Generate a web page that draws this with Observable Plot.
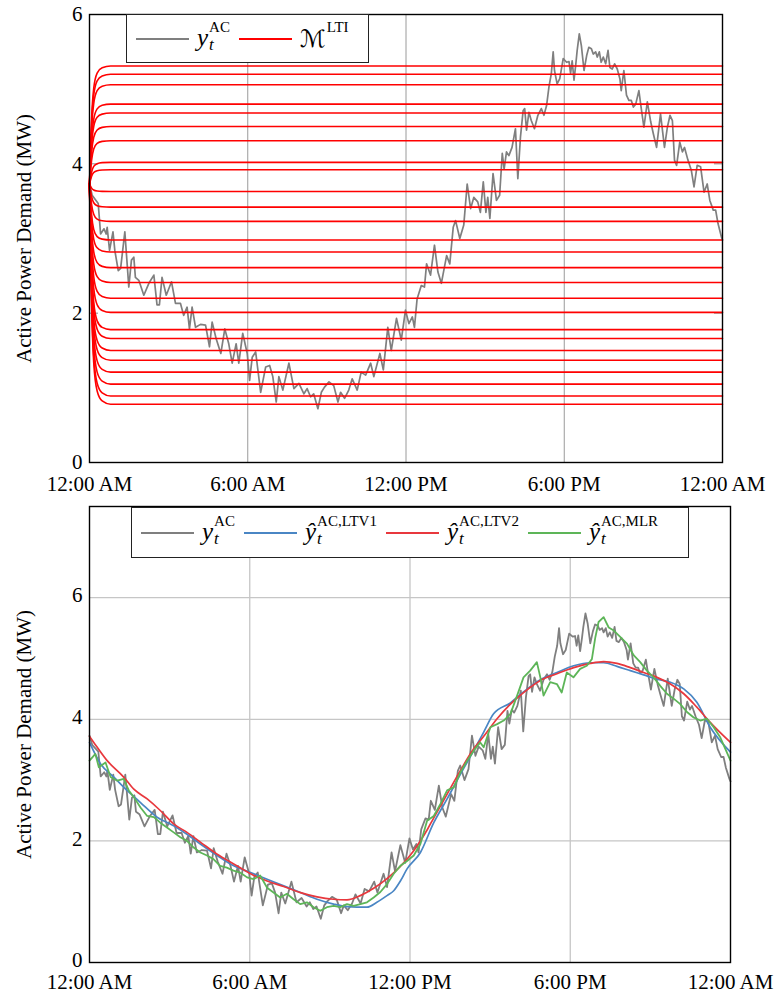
<!DOCTYPE html>
<html>
<head>
<meta charset="utf-8">
<script src="https://cdn.jsdelivr.net/npm/d3@7"></script>
<script src="https://cdn.jsdelivr.net/npm/@observablehq/plot@0.6"></script>
<style>
  html, body { margin: 0; padding: 0; background: white; }
  #wrap { position: relative; width: 779px; height: 994px; overflow: hidden; font-family: 'Liberation Serif', 'DejaVu Serif', serif; }
  #wrap svg, #wrap svg text { font-family: 'Liberation Serif', 'DejaVu Serif', serif !important; }
  .chart { position: absolute; left: 0; }
  .legend { position: absolute; background: white; border: 1.3px solid #222; box-sizing: border-box; display: flex; align-items: center; padding-left: 9px; }
  .item { display: flex; align-items: center; margin-right: 9px; }
  .swatch { width: 53px; height: 0; border-top: 2px solid; margin-right: 8px; }
  .m { display: inline-flex; align-items: center; line-height: 1; }
  .base { font-style: italic; font-size: 25px; position: relative; top: -1px; }
  .scr { font-family: 'DejaVu Serif', 'DejaVu Sans', serif; font-size: 24px; font-style: italic; }
  .ss { display: inline-flex; flex-direction: column; margin-left: 1px; }
  .sup { font-size: 15px; position: relative; top: -3px; }
  .sub { font-size: 17px; font-style: italic; position: relative; top: -2px; }
</style>
</head>
<body>
<div id="wrap"></div>
<script>
// ---------- data ----------
const tickHours = [0, 6, 12, 18, 24];
const tickLabels = ["12:00 AM", "6:00 AM", "12:00 PM", "6:00 PM", "12:00 AM"];
const yTicks = [0, 2, 4, 6];
const yLabel = "Active Power Demand (MW)";

// measured active-power demand y_t^AC (hour of day, MW)
const acHour = [0,0.10,0.33,0.42,0.55,0.63,0.67,0.76,0.89,0.96,1.09,1.18,1.34,1.49,1.59,1.68,1.74,1.87,2.06,2.25,2.44,2.56,2.65,2.75,2.91,3.11,3.26,3.45,3.57,3.70,3.79,3.89,4.02,4.21,4.40,4.55,4.65,4.80,4.98,5.13,5.28,5.41,5.56,5.66,5.81,5.98,6.07,6.17,6.30,6.49,6.68,6.83,6.95,7.08,7.18,7.33,7.56,7.75,7.94,8.13,8.25,8.38,8.50,8.66,8.79,8.91,9.08,9.26,9.42,9.52,9.67,9.83,9.96,10.15,10.30,10.47,10.66,10.78,11.01,11.14,11.31,11.44,11.64,11.82,11.98,12.11,12.24,12.32,12.42,12.58,12.70,12.78,12.93,13.08,13.21,13.34,13.54,13.66,13.79,13.88,14.04,14.19,14.32,14.45,14.57,14.72,14.82,14.93,15.03,15.10,15.18,15.30,15.43,15.55,15.65,15.72,15.81,15.90,16.02,16.15,16.24,16.34,16.44,16.50,16.57,16.66,16.75,16.87,17.00,17.13,17.23,17.33,17.42,17.51,17.58,17.63,17.73,17.83,17.96,18.09,18.18,18.24,18.30,18.37,18.44,18.49,18.57,18.65,18.75,18.85,18.93,19.03,19.10,19.19,19.25,19.33,19.40,19.48,19.57,19.66,19.73,19.82,19.91,20.01,20.11,20.16,20.26,20.36,20.45,20.54,20.62,20.71,20.83,20.92,21.02,21.15,21.28,21.38,21.50,21.65,21.80,21.91,22.01,22.10,22.18,22.26,22.38,22.48,22.56,22.69,22.82,22.92,23.04,23.17,23.30,23.42,23.52,23.65,23.74,23.83,23.96,24];
const acValue = [3.73,3.58,3.47,3.06,3.13,3.06,3.15,2.84,3.09,2.84,2.57,2.60,3.09,2.35,2.71,2.75,2.48,2.44,2.24,2.40,2.51,2.11,2.11,2.48,2.24,2.42,2.13,2.13,1.97,2.08,1.79,2.08,1.81,1.85,1.84,1.55,1.88,1.66,1.46,1.79,1.59,1.33,1.59,1.33,1.73,1.46,1.10,1.41,1.48,0.94,1.28,1.30,1.15,0.81,1.15,0.97,1.33,0.99,1.06,0.92,0.99,0.88,0.92,0.72,0.94,1.01,1.08,1.03,0.81,0.94,0.86,0.97,1.12,0.97,1.21,1.17,1.33,1.15,1.46,1.24,1.81,1.50,1.93,1.64,2.04,1.86,1.95,1.81,2.19,2.37,2.35,2.66,2.51,2.91,2.55,2.40,2.77,2.66,3.15,3.24,3.00,3.18,3.73,3.40,3.55,3.49,3.35,3.76,3.35,3.55,3.27,3.87,3.51,3.58,4.14,3.93,4.16,4.11,4.22,4.47,3.80,4.36,4.71,4.74,4.45,4.69,4.58,4.47,4.65,4.74,4.65,4.78,5.03,5.21,5.50,5.25,5.07,5.14,5.41,5.36,5.37,5.21,5.38,5.12,5.34,5.52,5.74,5.58,5.25,5.45,5.56,5.54,5.47,5.50,5.43,5.50,5.36,5.43,5.34,5.52,5.29,5.27,5.34,5.27,5.14,4.98,5.25,4.92,4.85,4.85,4.76,4.80,4.98,4.74,4.49,4.83,4.56,4.40,4.22,4.67,4.22,4.49,4.65,4.58,4.05,3.98,4.29,4.16,4.22,4.05,3.91,3.69,3.98,3.96,3.62,3.73,3.51,3.38,3.38,3.20,3.02,2.98];

// LTI model responses: common start value, steady-state levels, and step-response profile
const ltiStart = 3.73;
const ltiLevels = [5.31,5.20,5.06,4.80,4.68,4.50,4.31,4.02,3.92,3.63,3.42,3.23,2.98,2.82,2.61,2.41,2.20,2.01,1.78,1.66,1.50,1.37,1.21,1.05,0.89,0.78];
const ltiProfileHour = [0,0.03,0.08,0.16,0.29,0.48,0.8,24];
const ltiProfileFrac = [0,0.22,0.55,0.81,0.94,0.985,1,1];

// forecasts (bottom panel)
const ltv1Hour = [0,0.41,0.91,1.41,1.91,2.53,3.15,3.65,4.15,4.78,5.40,6.03,6.65,7.27,7.90,8.52,9.14,9.64,10.39,10.76,11.14,11.39,11.64,11.89,12.39,12.89,13.39,13.89,14.38,14.76,15.13,15.76,16.25,16.88,17.50,18.13,18.75,19.25,19.75,20.25,20.75,21.25,21.75,22.25,22.74,23.24,24];
const ltv1Value = [3.62,3.27,3.05,2.83,2.63,2.39,2.25,2.11,1.95,1.76,1.59,1.48,1.37,1.26,1.15,1.04,0.96,0.92,0.91,0.99,1.10,1.18,1.34,1.54,1.81,2.30,2.69,3.10,3.48,3.79,4.09,4.27,4.45,4.65,4.77,4.88,4.93,4.93,4.87,4.80,4.73,4.66,4.61,4.50,4.28,3.87,3.46];

const ltv2Hour = [0,0.16,0.66,1.28,1.66,2.16,2.65,3.15,3.65,4.15,4.78,5.40,6.03,6.65,7.27,7.90,8.52,9.14,9.64,10.14,10.64,11.14,11.64,12.14,12.64,12.89,13.39,13.89,14.38,14.76,15.26,15.76,16.25,16.88,17.50,18.13,18.75,19.25,19.75,20.25,20.75,21.25,21.75,22.25,22.74,23.24,24];
const ltv2Value = [3.72,3.62,3.32,3.05,2.85,2.69,2.50,2.28,2.14,1.98,1.78,1.62,1.46,1.34,1.25,1.15,1.08,1.04,1.03,1.10,1.22,1.38,1.58,1.84,2.18,2.38,2.77,3.16,3.51,3.72,4.01,4.25,4.44,4.64,4.75,4.85,4.92,4.95,4.92,4.85,4.77,4.69,4.58,4.42,4.20,3.95,3.62];

const mlrHour = [0,0.22,0.35,0.60,0.79,1.04,1.28,1.47,1.66,1.91,2.16,2.41,2.65,2.90,3.15,3.40,3.65,3.90,4.15,4.40,4.64,4.89,5.14,5.39,5.64,5.90,6.14,6.39,6.65,6.89,7.14,7.39,7.64,7.89,8.14,8.39,8.64,8.89,9.14,9.39,9.64,9.89,10.14,10.39,10.64,10.89,11.14,11.39,11.64,11.89,12.14,12.39,12.64,12.89,13.14,13.39,13.64,13.89,14.14,14.38,14.63,14.76,15.01,15.26,15.51,15.76,16.01,16.25,16.50,16.75,16.88,17.00,17.25,17.50,17.68,17.87,18.12,18.37,18.62,18.81,18.94,19.06,19.25,19.44,19.63,19.88,20.13,20.38,20.62,20.87,21.12,21.37,21.62,21.87,22.12,22.37,22.62,22.87,23.12,23.37,23.62,24];
const mlrValue = [3.32,3.43,3.21,3.29,3.05,2.99,3.02,2.83,2.72,2.55,2.41,2.39,2.30,2.22,2.14,2.06,2.00,1.89,1.81,1.76,1.70,1.59,1.56,1.51,1.48,1.40,1.37,1.43,1.23,1.15,1.07,1.13,1.04,0.96,0.99,0.91,0.85,0.91,0.93,0.91,0.96,0.93,0.96,0.99,1.07,1.16,1.29,1.46,1.59,1.67,1.76,1.95,2.33,2.41,2.61,2.83,2.88,3.13,3.32,3.48,3.62,3.54,3.87,3.92,3.98,4.09,4.39,4.69,4.80,4.94,4.69,4.39,4.61,4.58,4.44,4.77,4.69,4.83,4.88,4.99,5.35,5.60,5.68,5.51,5.46,5.35,5.24,5.05,4.94,4.80,4.69,4.55,4.42,4.34,4.25,4.12,4.03,3.98,4.01,3.87,3.70,3.32];

// legend entries
const topLegend = [
  {color: "#7f7f7f", base: "y", script: false, sup: "AC", sub: "t"},
  {color: "#ff0000", base: "ℳ", script: true, sup: "LTI", sub: ""}
];
const bottomLegend = [
  {color: "#7f7f7f", base: "y", sup: "AC", sub: "t"},
  {color: "#4a86c4", base: "ŷ", sup: "AC,LTV1", sub: "t"},
  {color: "#e8383d", base: "ŷ", sup: "AC,LTV2", sub: "t"},
  {color: "#5db558", base: "ŷ", sup: "AC,MLR", sub: "t"}
];

// ---------- tables ----------
const toTable = (hs, vs) => hs.map((h, i) => ({h, v: vs[i]}));
const acTable = toTable(acHour, acValue);
const ltiTable = ltiLevels.flatMap((L, k) =>
  ltiProfileHour.map((h, i) => ({k, h, v: ltiStart + (L - ltiStart) * ltiProfileFrac[i]})));
const ltv1Table = toTable(ltv1Hour, ltv1Value);
const ltv2Table = toTable(ltv2Hour, ltv2Value);
const mlrTable = toTable(mlrHour, mlrValue);

const fmtX = d => tickLabels[tickHours.indexOf(d)];
const fmtY = d => String(d);
const baseStyle = {fontFamily: "'Liberation Serif', serif", fontSize: "21px", color: "black", background: "white", overflow: "visible"};

// ---------- top chart ----------
const topChart = Plot.plot({
  width: 779, height: 500,
  marginTop: 14, marginBottom: 38, marginLeft: 89, marginRight: 57,
  style: baseStyle,
  x: {domain: [0, 24], label: null},
  y: {domain: [0, 6], label: null},
  marks: [
    Plot.gridX(tickHours.slice(1, -1), {stroke: "#9a9a9a", strokeOpacity: 1, strokeWidth: 1}),
    Plot.axisX(tickHours, {tickSize: 0, tickPadding: 14, tickFormat: fmtX, label: null}),
    Plot.axisY(yTicks, {tickSize: 0, tickPadding: 7, tickFormat: fmtY, label: yLabel, labelAnchor: "center", labelOffset: 73, labelArrow: "none"}),
    Plot.axisY(yTicks, {anchor: "left", tickSize: -9, tickFormat: () => "", label: null, stroke: "#8a8a8a"}),
    Plot.axisY(yTicks, {anchor: "right", tickSize: -9, tickFormat: () => "", label: null, stroke: "#8a8a8a"}),
    Plot.line(acTable, {x: "h", y: "v", stroke: "#7f7f7f", strokeWidth: 1.7}),
    Plot.line(ltiTable, {x: "h", y: "v", z: "k", stroke: "#ff0000", strokeWidth: 1.6, curve: "monotone-x"}),
    Plot.frame({stroke: "black", strokeWidth: 1.4})
  ]
});

// ---------- bottom chart ----------
const bottomChart = Plot.plot({
  width: 779, height: 494,
  marginTop: 6, marginBottom: 32, marginLeft: 89, marginRight: 49,
  style: baseStyle,
  x: {domain: [0, 24], label: null},
  y: {domain: [0, 7.5], label: null},
  marks: [
    Plot.gridX(tickHours.slice(1, -1), {stroke: "#c6c6c6", strokeOpacity: 1, strokeWidth: 1.3}),
    Plot.gridY(yTicks.slice(1), {stroke: "#c6c6c6", strokeOpacity: 1, strokeWidth: 1.3}),
    Plot.axisX(tickHours, {tickSize: 0, tickPadding: 12, tickFormat: fmtX, label: null}),
    Plot.axisY(yTicks, {tickSize: 0, tickPadding: 7, dy: -2, tickFormat: fmtY, label: yLabel, labelAnchor: "center", labelOffset: 73, labelArrow: "none"}),
    Plot.line(acTable, {x: "h", y: "v", stroke: "#7f7f7f", strokeWidth: 1.8}),
    Plot.line(ltv1Table, {x: "h", y: "v", stroke: "#4a86c4", strokeWidth: 1.7, curve: "monotone-x"}),
    Plot.line(ltv2Table, {x: "h", y: "v", stroke: "#e8383d", strokeWidth: 1.7, curve: "monotone-x"}),
    Plot.line(mlrTable, {x: "h", y: "v", stroke: "#5db558", strokeWidth: 1.8}),
    Plot.frame({stroke: "black", strokeWidth: 1.4})
  ]
});

const wrap = document.getElementById("wrap");
topChart.classList.add("chart"); topChart.style.top = "0px";
bottomChart.classList.add("chart"); bottomChart.style.top = "500px";
wrap.appendChild(topChart);
wrap.appendChild(bottomChart);

// ---------- legends ----------
function makeLegend(entries, box) {
  const lg = document.createElement("div");
  lg.className = "legend";
  Object.assign(lg.style, box);
  for (const e of entries) {
    const it = document.createElement("div");
    it.className = "item";
    const sw = document.createElement("div");
    sw.className = "swatch";
    sw.style.borderTopColor = e.color;
    it.appendChild(sw);
    const m = document.createElement("span");
    m.className = "m";
    const b = document.createElement("span");
    b.className = e.script ? "scr" : "base";
    b.textContent = e.base;
    m.appendChild(b);
    const ss = document.createElement("span");
    ss.className = "ss";
    const sp = document.createElement("span"); sp.className = "sup"; sp.textContent = e.sup;
    const sb = document.createElement("span"); sb.className = "sub"; sb.textContent = e.sub || "\u00a0";
    ss.appendChild(sp); ss.appendChild(sb);
    m.appendChild(ss);
    it.appendChild(m);
    lg.appendChild(it);
  }
  wrap.appendChild(lg);
}
makeLegend(topLegend, {left: "126px", top: "14px", width: "243px", height: "49px"});
makeLegend(bottomLegend, {left: "131px", top: "507px", width: "558px", height: "51px"});
</script>
</body>
</html>
